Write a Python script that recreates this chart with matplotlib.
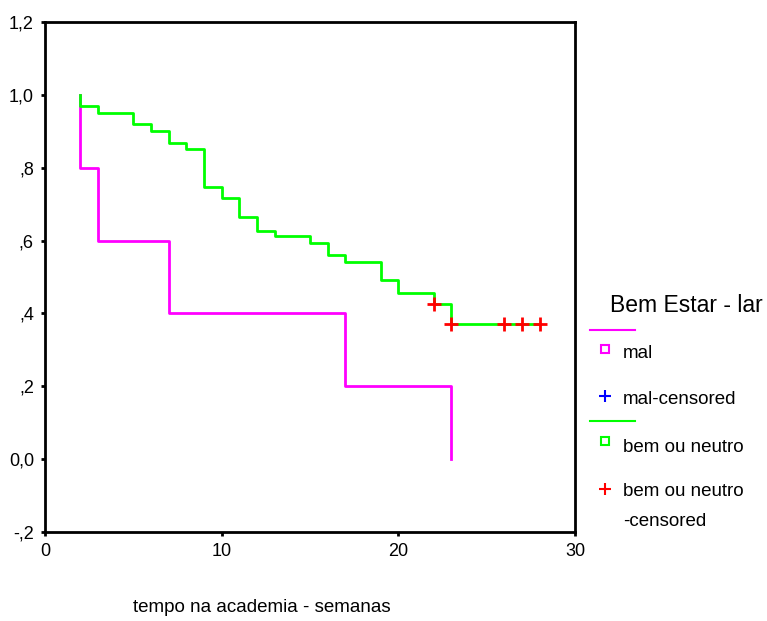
import numpy as np
import matplotlib.pyplot as plt
from matplotlib.lines import Line2D

plt.rcParams['font.family'] = ['Liberation Sans', 'DejaVu Sans']

# Kaplan-Meier steps per group (time in weeks, cumulative survival after the drop)
mal_t = [2, 3, 7, 17, 23]
mal_s = [0.80, 0.60, 0.40, 0.20, 0.00]

bem_t = [2, 3, 5, 6, 7, 8, 9, 10, 11, 12, 13, 15, 16, 17, 19, 20, 22, 23, 28]
bem_s = [0.970, 0.951, 0.921, 0.902, 0.869, 0.851, 0.746, 0.716, 0.664, 0.627,
         0.612, 0.593, 0.561, 0.542, 0.491, 0.457, 0.426, 0.371, 0.371]

# censored observations in the "bem ou neutro" group
cens_t = [22, 23, 26, 27, 28]
cens_s = [0.426, 0.371, 0.371, 0.371, 0.371]

yticks = [-0.2, 0.0, 0.2, 0.4, 0.6, 0.8, 1.0, 1.2]
ylabels = ['-,2', '0,0', ',2', ',4', ',6', ',8', '1,0', '1,2']
xticks = [0, 10, 20, 30]

MAG = '#ff00ff'
GRN = '#00ff00'
W, H = 767, 621


def km_xy(t, s, start):
    # step curve starting at 1.0 at the first time point
    x = [start]
    y = [1.0]
    for ti, si in zip(t, s):
        x += [ti, ti]
        y += [y[-1], si]
    return x, y


def fx(px):
    return px / W


def fy(py):
    return 1 - py / H


fig = plt.figure(figsize=(W / 100, H / 100), dpi=100)
ax = fig.add_axes([fx(45), fy(532), 530 / W, 510 / H])

mx, my = km_xy(mal_t, mal_s, mal_t[0])
ax.plot(mx, my, color=MAG, lw=2, zorder=2)
gx, gy = km_xy(bem_t, bem_s, bem_t[0])
ax.plot(gx, gy, color=GRN, lw=2, zorder=3)
ax.plot(cens_t, cens_s, ls='none', marker='+', color='red', ms=10, mew=2, zorder=4)

ax.set_xlim(0, 30)
ax.set_ylim(-0.2, 1.2)
ax.set_xticks(xticks)
ax.set_yticks(yticks)
ax.set_yticklabels(ylabels)
ax.tick_params(direction='out', length=3, width=2, labelsize=13, pad=5)
for sp in ax.spines.values():
    sp.set_linewidth(2)

fig.text(fx(262), fy(607), 'tempo na academia - semanas',
         ha='center', va='center', fontsize=13.5)

# legend, drawn by hand in figure coordinates
fig.text(fx(686), fy(306), 'Bem Estar - lar', ha='center', va='center', fontsize=16.5)
fig.add_artist(Line2D([fx(590), fx(635)], [fy(330), fy(330)], color=MAG, lw=1.5))
fig.add_artist(Line2D([fx(605)], [fy(349)], ls='none', marker='s', mfc='none',
                      mec=MAG, ms=5.5, mew=1.5))
fig.add_artist(Line2D([fx(605)], [fy(396)], ls='none', marker='+', color='blue',
                      ms=9, mew=1.5))
fig.add_artist(Line2D([fx(590), fx(635)], [fy(421), fy(421)], color=GRN, lw=1.5))
fig.add_artist(Line2D([fx(605)], [fy(441)], ls='none', marker='s', mfc='none',
                      mec=GRN, ms=5.5, mew=1.5))
fig.add_artist(Line2D([fx(605)], [fy(489)], ls='none', marker='+', color='red',
                      ms=9, mew=1.5))
leg_text = [('mal', 353), ('mal-censored', 399), ('bem ou neutro', 447),
            ('bem ou neutro', 492), ('-censored', 522)]
for txt, py in leg_text:
    fig.text(fx(623), fy(py), txt, ha='left', va='center', fontsize=13.5)

fig.savefig('out.png', dpi=100)
